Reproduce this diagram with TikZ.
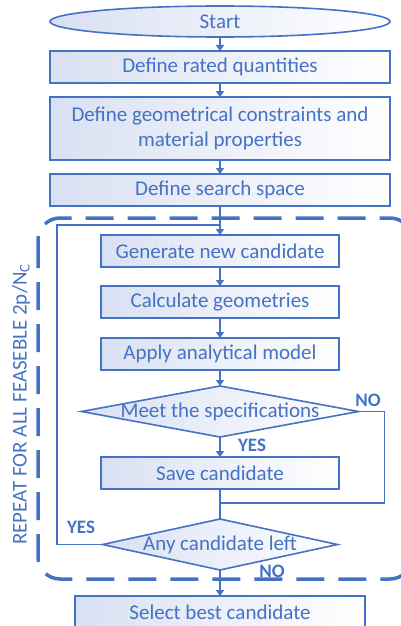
\documentclass[tikz,border=0pt]{standalone}
\usepackage{fontspec}
\setmainfont{Carlito}
\usepackage{tikz}
\usetikzlibrary{arrows.meta,positioning,shapes.geometric,calc}

\definecolor{flowblue}{HTML}{4472C4}
\definecolor{flowfill}{HTML}{D9E0F2}

\begin{document}
\begin{tikzpicture}[x=1pt, y=1pt, node distance=14pt, every node/.style={font=\fontsize{21}{25}\selectfont, text=flowblue, outer sep=0pt},
  stepbox/.style={draw=flowblue, line width=1.6pt, left color=flowfill, right color=white, minimum height=32pt, inner sep=0pt, align=center},
  decision/.style={diamond, draw=flowblue, line width=1.6pt, left color=flowfill, right color=white, inner sep=0pt},
  arr/.style={-{Triangle[length=6pt,width=8pt]}, draw=flowblue, line width=1.6pt},
  conn/.style={draw=flowblue, line width=1.6pt},
  answer/.style={font=\fontsize{19}{22}\selectfont\bfseries}]
\useasboundingbox (0,0) rectangle (400,-626);
% repeat frame
\draw[flowblue, line width=3.5pt, dash pattern=on 28pt off 14pt, rounded corners=22pt] (38,-218) rectangle (412,-579);
\node[rotate=90, anchor=west] (repeat) at (21,-548) {REPEAT FOR ALL FEASEBLE 2p/N\textsubscript{C}};
% main chain
\node[ellipse, draw=flowblue, line width=1.6pt, left color=flowfill, right color=white, minimum width=340pt, minimum height=31pt, inner sep=0pt] (start) at (220,-21.5) {Start};
\node[stepbox, minimum width=340pt, below=14pt of start] (rated) {Define rated quantities};
\node[stepbox, minimum width=340pt, minimum height=63pt, below=14pt of rated] (geom) {Define geometrical constraints and\\material properties};
\node[stepbox, minimum width=340pt, below=14pt of geom] (space) {Define search space};
\node[stepbox, minimum width=238pt, below=29pt of space] (gen) {Generate new candidate};
\node[stepbox, minimum width=238pt, below=19pt of gen] (geo) {Calculate geometries};
\node[stepbox, minimum width=238pt, below=20pt of geo] (model) {Apply analytical model};
\node[decision, minimum width=277pt, minimum height=51pt, below=16pt of model] (meet) {};
\node at (meet) {Meet the specifications};
\node[stepbox, minimum width=238pt, below=20pt of meet] (save) {Save candidate};
\node[decision, minimum width=235pt, minimum height=51pt, below=30pt of save] (left) {};
\node at (left) {Any candidate left};
\node[stepbox, minimum width=290pt, below=26pt of left] (best) {Select best candidate};
\draw[arr] (start)--(rated);\draw[arr] (rated)--(geom);\draw[arr] (geom)--(space);\draw[arr] (space)--(gen);
\draw[arr] (gen)--(geo);\draw[arr] (geo)--(model);\draw[arr] (model)--(meet);
\draw[arr] (meet)--(save);
\draw[conn] (save)--(left);
\coordinate (join) at ($(save.south)+(0,-14pt)$);
\draw[conn] (meet.east) -- ++(26pt,0) coordinate (turn) |- (join);
\coordinate (back) at ($(gen.north)+(0,10pt)$);
\coordinate (loopx) at (57,0);
\draw[conn] (left.west) -- (left.west -| loopx) |- (back);
\draw[arr] (left)--(best);
% answers
\node[answer] (yes1) at (252,-445) {YES};
\node[answer] (no1) at (368,-400) {NO};
\node[answer] (yes2) at (81,-527) {YES};
\node[answer] (no2) at (272,-571) {NO};
\end{tikzpicture}
\end{document}
